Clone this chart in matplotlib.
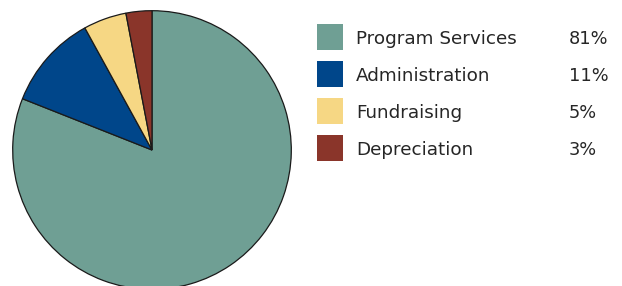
import matplotlib.pyplot as plt
from matplotlib.patches import Rectangle

categories = ['Program Services', 'Administration', 'Fundraising', 'Depreciation']
shares = [81, 11, 5, 3]
pct_labels = ['81%', '11%', '5%', '3%']
colors = ['#6f9f94', '#00468a', '#f6d784', '#8a352a']

W, H = 622, 286
fig = plt.figure(figsize=(W / 100, H / 100), dpi=100)

# pie: centre (152,150) px, radius 140 px
ax = fig.add_axes([12 / W, (H - 290) / H, 280 / W, 280 / H])
ax.pie(shares, colors=colors, startangle=90, counterclock=False,
       wedgeprops={'edgecolor': '#1a1a1a', 'linewidth': 0.9})
ax.set_xlim(-1.005, 1.005)
ax.set_ylim(-1.005, 1.005)
ax.set_aspect('auto')
ax.axis('off')

# legend drawn in pixel coords
lg = fig.add_axes([0, 0, 1, 1])
lg.set_xlim(0, W)
lg.set_ylim(H, 0)
lg.axis('off')
for i, (name, pct, c) in enumerate(zip(categories, pct_labels, colors)):
    yc = 36.5 + i * 37.2
    lg.add_patch(Rectangle((317, yc - 13), 26, 26, facecolor=c, edgecolor='none'))
    lg.text(356, yc + 7, name, fontsize=13.2, va='baseline', ha='left',
            color='#262626', family='DejaVu Sans')
    lg.text(569, yc + 7, pct, fontsize=12.8, va='baseline', ha='left',
            color='#262626', family='DejaVu Sans')

fig.savefig('out.png', dpi=100)
